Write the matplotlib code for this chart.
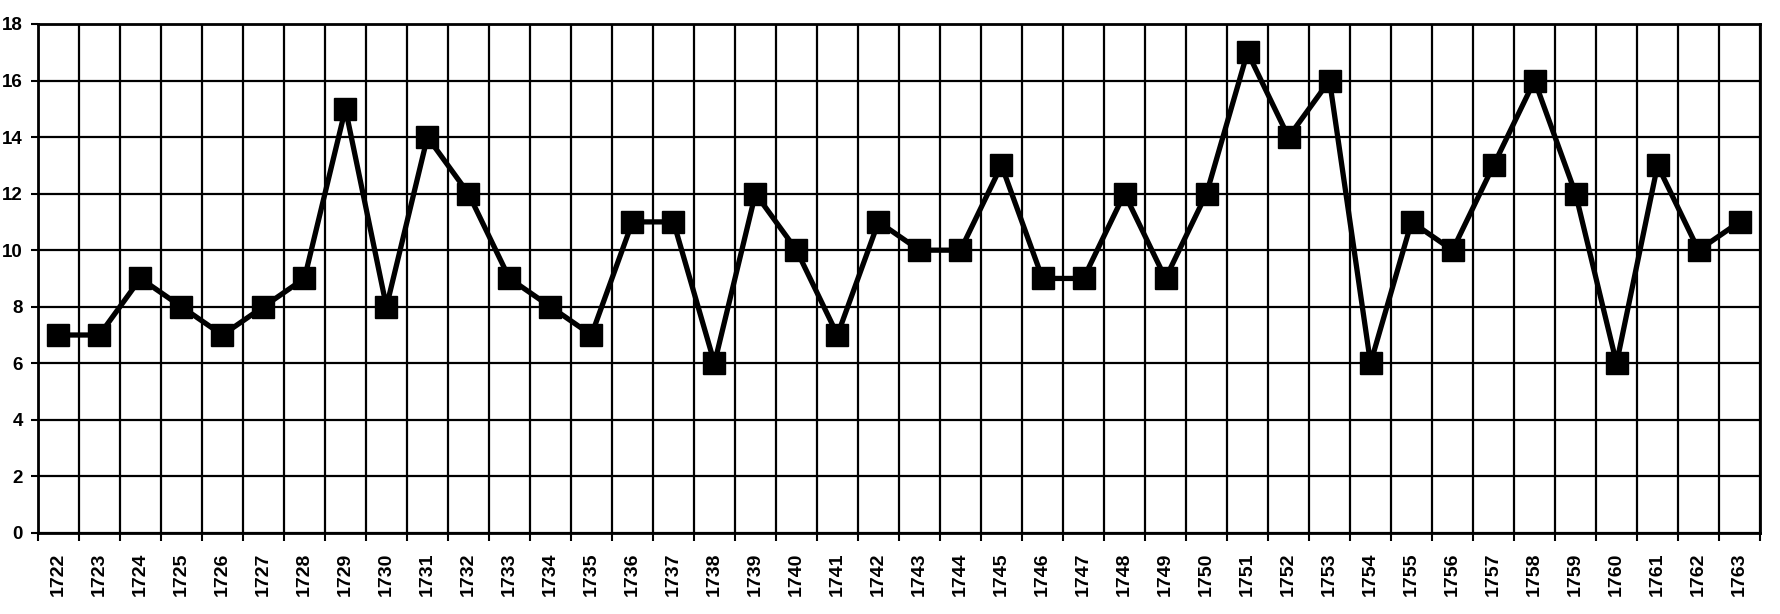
import matplotlib
matplotlib.use("Agg")
import matplotlib.pyplot as plt
import numpy as np

years = [str(y) for y in range(1722, 1764)]
values = [7, 7, 9, 8, 7, 8, 9, 15, 8, 14, 12, 9, 8, 7, 11, 11, 6, 12, 10, 7,
          11, 10, 10, 13, 9, 9, 12, 9, 12, 17, 14, 16, 6, 11, 10, 13, 16, 12, 6, 13, 10, 11]
y_ticks = [0, 2, 4, 6, 8, 10, 12, 14, 16, 18]

plt.rcParams['font.family'] = ['Liberation Sans', 'DejaVu Sans']
fig = plt.figure(figsize=(17.8, 6.14), dpi=100)
ax = fig.add_axes([0.0213, 0.132, 0.9675, 0.829])

x = np.arange(len(years))
ax.plot(x, values, color='black', linewidth=3.8, marker='s', markersize=16,
        markerfacecolor='black', markeredgecolor='black', zorder=3)

ax.set_xlim(-0.5, len(years) - 0.5)
ax.set_ylim(0, 18)
ax.set_yticks(y_ticks)
ax.set_yticklabels([str(v) for v in y_ticks], fontsize=13.5, fontweight='bold')
ax.set_xticks(x)
ax.set_xticklabels(years, rotation=90, fontsize=14, fontweight='bold')
ax.tick_params(axis='x', length=0, pad=14)
ax.set_xticks(np.arange(-0.5, len(years), 1.0), minor=True)
ax.tick_params(axis='x', which='minor', length=6, width=1.5, direction='out')
ax.tick_params(axis='y', length=5, width=1.5, pad=6)

for v in y_ticks:
    ax.axhline(v, color='black', linewidth=1.6, zorder=1)
for b in np.arange(-0.5, len(years), 1.0):
    ax.axvline(b, color='black', linewidth=1.6, zorder=1)

for s in ax.spines.values():
    s.set_linewidth(2)
    s.set_color('black')

fig.savefig('out.png', dpi=100, facecolor='white')
